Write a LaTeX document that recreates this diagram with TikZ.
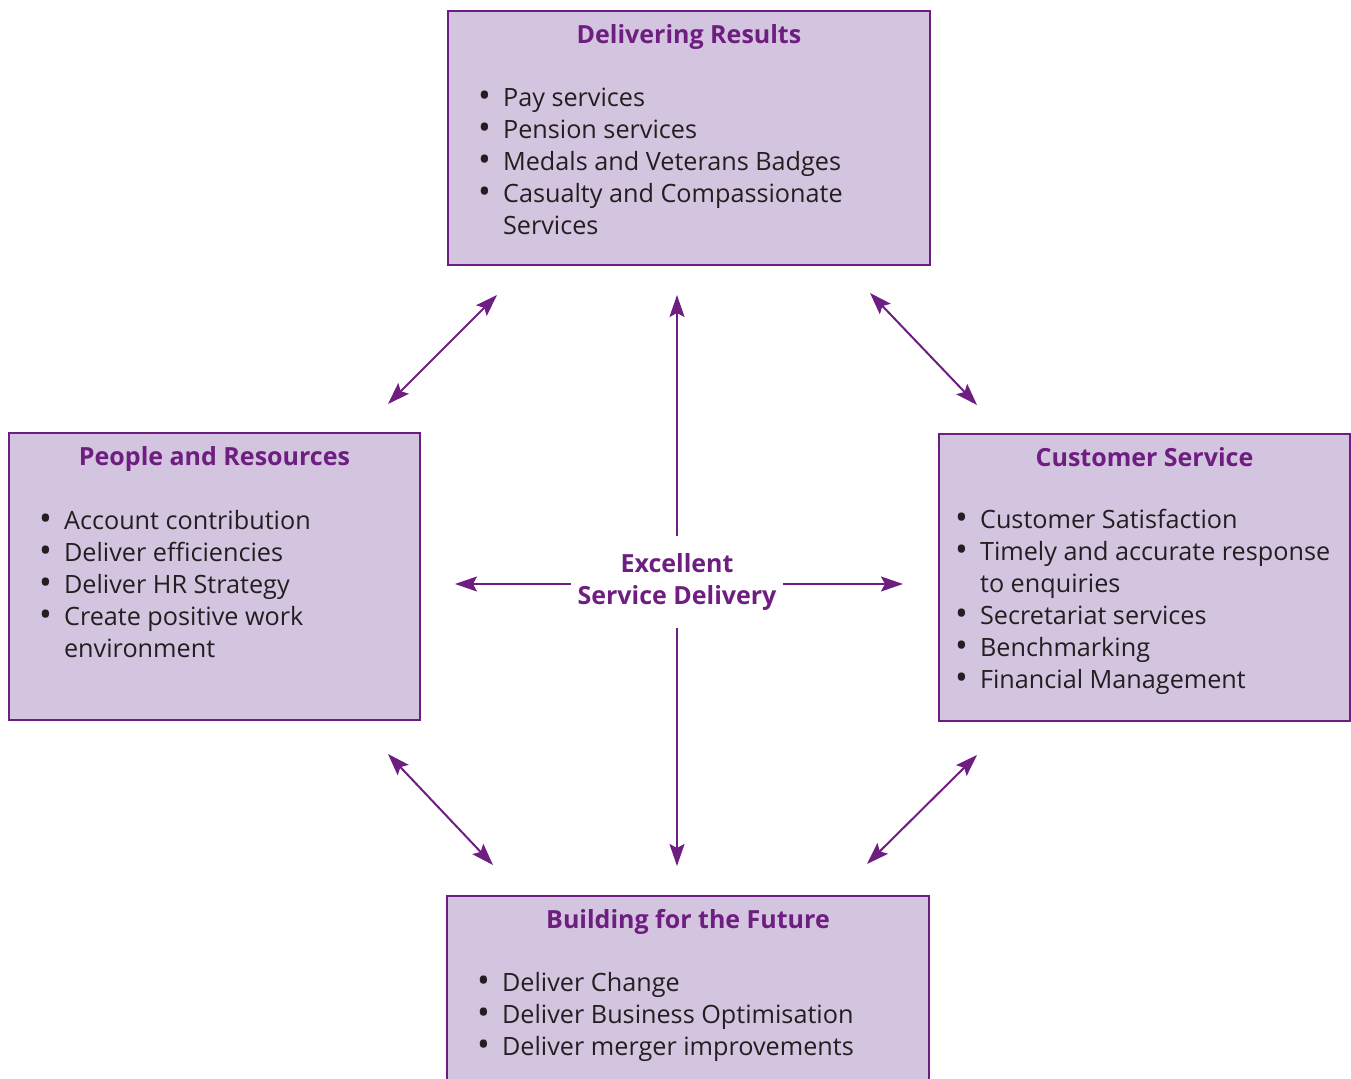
\documentclass[tikz,border=0pt]{standalone}
\usepackage{fontspec}
\setmainfont{Open Sans}
\usetikzlibrary{positioning,arrows.meta}

\definecolor{mauve}{HTML}{D3C4DF}
\definecolor{plum}{HTML}{6E1E80}
\definecolor{ink}{HTML}{231F20}

% bullet list, one row per line
\newenvironment{blist}{\begin{tabular}[t]{@{}p{12.5pt}@{}l@{}}}{\end{tabular}}
\newcommand{\bdot}{\raisebox{-0.4pt}{\scalebox{1.35}{\textbullet}}}

\begin{document}
\begin{tikzpicture}[x=0.5pt,y=-0.5pt,
  box/.style={rectangle,draw=plum,fill=mauve,line width=1.3pt},
  head/.style={font=\fontsize{12.5}{16}\selectfont\bfseries,text=plum,inner sep=0pt},
  items/.style={font=\fontsize{12.6}{16}\selectfont,text=ink,inner sep=0pt,anchor=base west},
  hub/.style={font=\fontsize{12.5}{16}\selectfont\bfseries,text=plum,align=center,inner xsep=3pt,inner ysep=8.5pt},
  link/.style={plum,line width=1pt,{Stealth[length=11pt,width=7.5pt,inset=2pt]}-{Stealth[length=11pt,width=7.5pt,inset=2pt]}},
  spoke/.style={plum,line width=1pt,-{Stealth[length=11pt,width=7.5pt,inset=2pt]}}]

\clip (0,0) rectangle (1351,1079);

% the four boxes
\node[box,minimum width=241pt,minimum height=127pt] (results) at (689,138) {};
\node[box,minimum width=205.5pt,minimum height=143.5pt] (people) at (214.5,576.5) {};
\node[box,minimum width=205.5pt,minimum height=143.5pt] (customer) at (1144.5,577.5) {};
\node[box,minimum width=241pt,minimum height=127pt] (future) at (688,1023) {};

\node[head,below=7pt of results.north] (resultsT) {Delivering Results};
\node[head,below=7pt of people.north] (peopleT) {People and Resources};
\node[head,below=7pt of customer.north] (customerT) {Customer Service};
\node[head,below=7pt of future.north] (futureT) {Building for the Future};

\node[items] (resultsL) at ([shift={(31,97)}]results.north west) {\begin{blist}
  \bdot & Pay services\\
  \bdot & Pension services\\
  \bdot & Medals and Veterans Badges\\
  \bdot & Casualty and Compassionate\\
        & Services
\end{blist}};
\node[items] (peopleL) at ([shift={(31,98)}]people.north west) {\begin{blist}
  \bdot & Account contribution\\
  \bdot & Deliver efficiencies\\
  \bdot & Deliver HR Strategy\\
  \bdot & Create positive work\\
        & environment
\end{blist}};
\node[items] (customerL) at ([shift={(17,96)}]customer.north west) {\begin{blist}
  \bdot & Customer Satisfaction\\
  \bdot & Timely and accurate response\\
        & to enquiries\\
  \bdot & Secretariat services\\
  \bdot & Benchmarking\\
  \bdot & Financial Management
\end{blist}};
\node[items] (futureL) at ([shift={(31,97)}]future.north west) {\begin{blist}
  \bdot & Deliver Change\\
  \bdot & Deliver Business Optimisation\\
  \bdot & Deliver merger improvements
\end{blist}};

% centre
\node[hub] (excellence) at (677,582) {Excellent\\Service Delivery};

\coordinate (up) at (677,295);
\coordinate (down) at (677,866);
\coordinate (left) at (455,584);
\coordinate (right) at (903,584);

\draw[spoke] (excellence.north) -- (up);
\draw[spoke] (excellence.south) -- (down);
\draw[spoke] (excellence.west |- left) -- (left);
\draw[spoke] (excellence.east |- right) -- (right);

% diagonals between neighbouring boxes
\coordinate (nwA) at (497,295);
\coordinate (nwB) at (388,404);
\coordinate (neA) at (870,293);
\coordinate (neB) at (977,405);
\coordinate (swA) at (388,754);
\coordinate (swB) at (493,865);
\coordinate (seA) at (977,755);
\coordinate (seB) at (867,864);

\draw[link] (nwA) -- (nwB);
\draw[link] (neA) -- (neB);
\draw[link] (swA) -- (swB);
\draw[link] (seA) -- (seB);
\end{tikzpicture}
\end{document}
